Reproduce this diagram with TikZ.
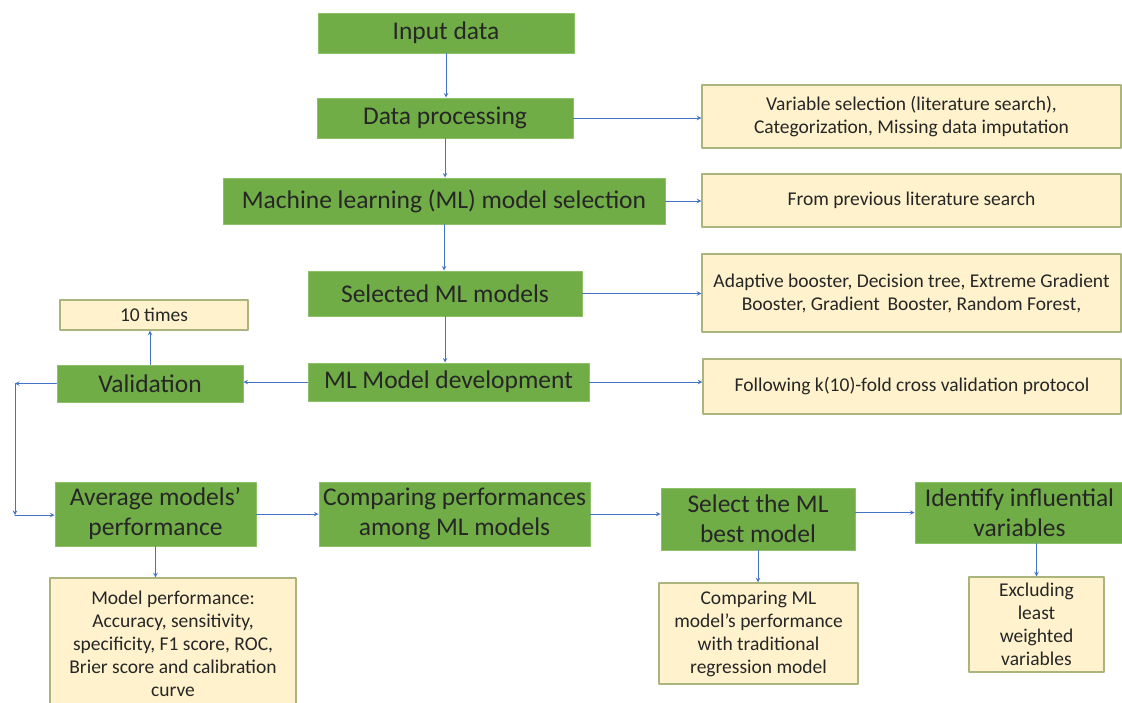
\documentclass[tikz,border=0pt]{standalone}
\usepackage{fontspec}
\setmainfont{Carlito}
\definecolor{stepgreen}{HTML}{70AD47}
\definecolor{stepedge}{HTML}{8CC168}
\definecolor{notefill}{HTML}{FFF2CC}
\definecolor{noteedge}{HTML}{A9B57C}
\definecolor{linkblue}{HTML}{4472C4}
\begin{document}
\begin{tikzpicture}[x=1pt, y=-1pt, >=stealth, line cap=round, line join=round,
    gbox/.style={draw=stepedge, line width=1pt, fill=stepgreen, text=black!85,
                 font=\fontsize{25.5}{30}\selectfont, align=center, inner sep=0pt},
    nbox/.style={draw=noteedge, line width=1.4pt, fill=notefill, text=black!85,
                 font=\fontsize{19.5}{23}\selectfont, align=center, inner sep=0pt},
    link/.style={->, draw=linkblue, line width=1pt}]
  \useasboundingbox (0,0) rectangle (1122,702);

  % ---- Main column (pixel grid, y down) ----
  \node[gbox, minimum width=256, minimum height=40] (inp)  at (446,33)    {Input data};
  \node[gbox, minimum width=256, minimum height=40] (proc) at (445,118)   {Data processing};
  \node[gbox, minimum width=442, minimum height=46] (msel) at (444,201)   {Machine learning (ML) model selection};
  \node[gbox, minimum width=274, minimum height=45] (sel)  at (445,293.5) {Selected ML models};
  \node[gbox, minimum width=281, minimum height=38] (dev)  at (448.5,382) {ML Model development};

  % ---- Notes on the right ----
  \node[nbox, minimum width=419, minimum height=63] (vproc) at (911.5,116.5)
       {Variable selection (literature search),\\Categorization, Missing data imputation};
  \node[nbox, minimum width=419, minimum height=53] (vlit)  at (911.5,200.5)
       {From previous literature search};
  \node[nbox, minimum width=419, minimum height=78] (vmod)  at (911.5,293)
       {Adaptive booster, Decision tree, Extreme Gradient\\Booster, Gradient\, Booster, Random Forest,};
  \node[nbox, minimum width=418, minimum height=55] (vfold) at (912,386.5)
       {Following k(10)-fold cross validation protocol};

  % ---- Validation loop ----
  \node[gbox, minimum width=186, minimum height=37] (val)   at (150,383.5) {Validation};
  \node[nbox, minimum width=188, minimum height=30] (times) at (154,315)   {10 times};
  \coordinate (lt) at (15,383.5);
  \coordinate (lb) at (15,515);

  % ---- Bottom row ----
  \node[gbox, minimum width=201, minimum height=64] (avg)   at (155.5,514)  {Average models'\\performance};
  \node[gbox, minimum width=271, minimum height=64] (comp)  at (454.5,514)  {Comparing performances\\among ML models};
  \node[gbox, minimum width=194, minimum height=62] (best)  at (758,519)    {Select the ML\\best model};
  \node[gbox, minimum width=209, minimum height=61] (ident) at (1019.5,512.5) {Identify influential\\variables};

  \node[nbox, minimum width=246, minimum height=132] (perf)  at (173,644)
       {Model performance:\\Accuracy, sensitivity,\\specificity, F1 score, ROC,\\Brier score and calibration\\curve};
  \node[nbox, minimum width=199, minimum height=101] (cmpml) at (758.5,633.5)
       {Comparing ML\\model's performance\\with traditional\\regression model};
  \node[nbox, minimum width=135, minimum height=95]  (excl)  at (1036.5,624.5)
       {Excluding\\least\\weighted\\variables};

  % ---- Connectors ----
  \draw[link] (inp.south)  -- (inp.south |- proc.north);
  \draw[link] (proc.south) -- (proc.south |- msel.north);
  \draw[link] (msel.south) -- (msel.south |- sel.north);
  \draw[link] (sel.south)  -- (sel.south |- dev.north);

  \draw[link] (proc.east) -- (proc.east -| vproc.west);
  \draw[link] (msel.east) -- (msel.east -| vlit.west);
  \draw[link] (sel.east)  -- (sel.east -| vmod.west);
  \draw[link] (dev.east)  -- (dev.east -| vfold.west);

  \draw[link] (dev.west)  -- (dev.west -| val.east);
  \draw[link] (val.north) -- (val.north |- times.south);
  \draw[link] (val.west)  -- (lt);
  \draw[link] (lt) -- (lb);
  \draw[link] (lb) -- (lb -| avg.west);

  \draw[link] (avg.east)  -- (avg.east -| comp.west);
  \draw[link] (comp.east) -- (comp.east -| best.west);
  \draw[link] (ident.west -| best.east) -- (ident.west);

  \draw[link] (avg.south)  -- (avg.south |- perf.north);
  \draw[link] (best.south) -- (best.south |- cmpml.north);
  \draw[link] (excl.north |- ident.south) -- (excl.north);
\end{tikzpicture}
\end{document}
